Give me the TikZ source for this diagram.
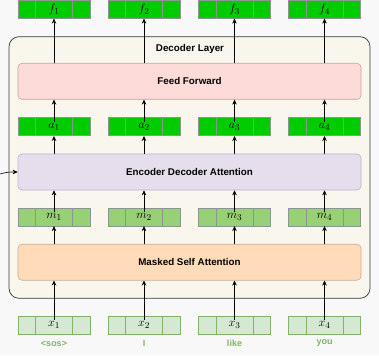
\documentclass[tikz,border=0pt]{standalone}
\usepackage[no-math]{fontspec}
\setmainfont{Liberation Sans}
\usetikzlibrary{arrows.meta}
\definecolor{bgc}{RGB}{248,248,248}
\definecolor{outerfill}{RGB}{249,247,237}
\definecolor{outerdraw}{RGB}{54,57,61}
\definecolor{fffill}{RGB}{252,219,216}
\definecolor{ffdraw}{RGB}{205,160,160}
\definecolor{edafill}{RGB}{230,222,236}
\definecolor{edadraw}{RGB}{195,175,210}
\definecolor{msafill}{RGB}{255,219,186}
\definecolor{msadraw}{RGB}{205,170,140}
\definecolor{brightg}{RGB}{0,204,0}
\definecolor{midg}{RGB}{151,208,119}
\definecolor{lightg}{RGB}{213,232,212}
\definecolor{lgdraw}{RGB}{130,179,102}
\definecolor{celldraw}{RGB}{140,150,140}
\begin{document}
\begin{tikzpicture}[x=1pt,y=-1pt,
  tok/.style={rectangle,minimum width=72pt,minimum height=18pt,inner sep=0pt,line width=0.6pt,font=\fontsize{12.5}{14}\selectfont},
  ftok/.style={tok,fill=brightg,draw=celldraw},
  mtok/.style={tok,fill=midg,draw=celldraw},
  xtok/.style={tok,fill=lightg,draw=lgdraw},
  big/.style={rectangle,rounded corners=4pt,minimum width=343pt,minimum height=36pt,line width=0.6pt,font=\fontsize{9.8}{11}\selectfont\bfseries},
  word/.style={text=lgdraw,font=\fontsize{9}{10}\selectfont\bfseries,inner sep=0pt},
  arr/.style={-{Stealth[length=5pt,width=4.5pt]},line width=0.6pt,black}
]
\fill[bgc] (0,0) rectangle (379,355);
\useasboundingbox (0,0) rectangle (379,355);
% outer decoder layer
\node[draw=outerdraw,fill=outerfill,rounded corners=10pt,line width=0.7pt,
  minimum width=361pt,minimum height=261.6pt,inner sep=0pt] (outer) at (189.5,167.5) {};
\node[font=\fontsize{9.8}{11}\selectfont\bfseries,inner sep=0pt] (title) at (190,48.5) {Decoder Layer};
% big blocks
\node[big,fill=fffill,draw=ffdraw] (ff) at (189.5,81.3) {Feed Forward};
\node[big,fill=edafill,draw=edadraw] (eda) at (189.5,172) {Encoder Decoder Attention};
\node[big,fill=msafill,draw=msadraw] (msa) at (189.5,262.2) {Masked Self Attention};
% token rows
\foreach \i/\x/\w in {1/54/{<sos>},2/144/I,3/234.5/like,4/324.5/you} {
  \node[ftok] (f\i) at (\x,9.3) {$f_{\i}$};
  \node[ftok] (a\i) at (\x,126.7) {$a_{\i}$};
  \node[mtok] (m\i) at (\x,216.8) {$m_{\i}$};
  \node[xtok] (x\i) at (\x,325.2) {$x_{\i}$};
  \node[word] (w\i) at (\x,343.5) {\w};
  \foreach \n/\c in {f/celldraw,a/celldraw,m/celldraw,x/lgdraw} {
    \draw[\c,line width=0.6pt] ([xshift=18pt]\n\i.north west) -- ([xshift=18pt]\n\i.south west);
    \draw[\c,line width=0.6pt] ([xshift=-18pt]\n\i.north east) -- ([xshift=-18pt]\n\i.south east);
  }
  \draw[arr] ([yshift=5pt]x\i.center) -- (x\i.center |- msa.south);
  \draw[arr] (m\i.south |- msa.north) -- (m\i.south);
  \draw[arr] ([yshift=5pt]m\i.center) -- (m\i.center |- eda.south);
  \draw[arr] (a\i.south |- eda.north) -- (a\i.south);
  \draw[arr] ([yshift=5pt]a\i.center) -- (a\i.center |- ff.south);
  \draw[arr] (f\i.south |- ff.north) -- (f\i.south);
}
\coordinate (encin) at (0,174);
\draw[arr] (encin) .. controls (8,172) .. (eda.west);
\end{tikzpicture}
\end{document}
